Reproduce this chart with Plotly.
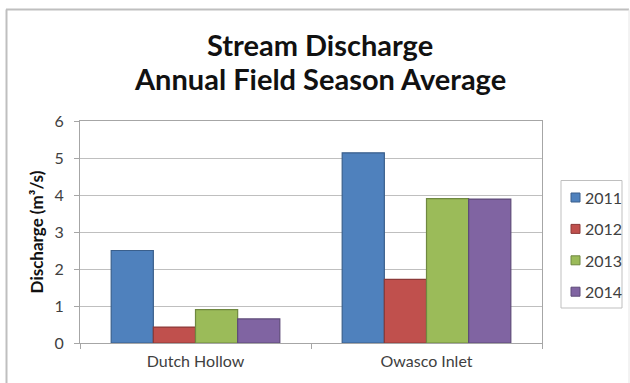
import plotly.graph_objects as go

# Stream discharge averages per field season (m^3/s)
sites = ["Dutch Hollow", "Owasco Inlet"]
years = ["2011", "2012", "2013", "2014"]
discharge_2011 = [2.50, 5.14]
discharge_2012 = [0.43, 1.72]
discharge_2013 = [0.90, 3.90]
discharge_2014 = [0.65, 3.89]
y_ticks = [0, 1, 2, 3, 4, 5, 6]

series = [discharge_2011, discharge_2012, discharge_2013, discharge_2014]
fills = ["#4F81BD", "#C0504D", "#9BBB59", "#8064A2"]
edges = ["#3A5F8C", "#8C3A38", "#6F8840", "#5D4A78"]

W, H = 630, 383
L, R, T, B = 80, 88, 121, 40
pw = W - L - R
ph = H - T - B


def px_x(p):
    """Pixel column -> paper x."""
    return (p - L) / pw


def px_y(p):
    """Pixel row -> paper y."""
    return (H - B - p) / ph


font_family = "Lato, 'Open Sans', sans-serif"
grey = "#BFBFBF"

fig = go.Figure()
for yr, vals, fc, ec in zip(years, series, fills, edges):
    fig.add_trace(go.Bar(
        x=sites, y=vals, name=yr,
        marker=dict(color=fc, line=dict(color=ec, width=1.2)),
    ))

shapes = [
    # outer chart frame
    dict(type="line", xref="paper", yref="paper",
         x0=px_x(6), x1=px_x(629), y0=px_y(9.5), y1=px_y(9.5),
         line=dict(color=grey, width=2)),
    dict(type="line", xref="paper", yref="paper",
         x0=px_x(6.5), x1=px_x(6.5), y0=px_y(9.5), y1=px_y(383),
         line=dict(color=grey, width=2)),
    dict(type="line", xref="paper", yref="paper",
         x0=px_x(629), x1=px_x(629), y0=px_y(9.5), y1=px_y(383),
         line=dict(color="#E6E6E6", width=1)),
    # legend box
    dict(type="rect", xref="paper", yref="paper",
         x0=px_x(561), x1=px_x(622), y0=px_y(180.5), y1=px_y(308),
         line=dict(color=grey, width=1), fillcolor="white"),
]
annotations = []

# legend entries: swatch + year label
leg_top, leg_step = 197.5, 31.4
for i, (yr, fc, ec) in enumerate(zip(years, fills, edges)):
    cy = leg_top + i * leg_step
    shapes.append(dict(
        type="rect", xref="paper", yref="paper",
        x0=px_x(571), x1=px_x(580), y0=px_y(cy - 4.5), y1=px_y(cy + 4.5),
        line=dict(color=ec, width=1), fillcolor=fc,
    ))
    annotations.append(dict(
        text=yr, xref="paper", yref="paper", x=px_x(582.5), y=px_y(cy),
        xanchor="left", yanchor="middle", showarrow=False,
        font=dict(size=16, color="#404040"),
    ))

# two-line chart title
for line, cy in (("Stream Discharge", 44), ("Annual Field Season Average", 78)):
    annotations.append(dict(
        text=f"<b>{line}</b>", xref="paper", yref="paper",
        x=px_x(320), y=px_y(cy), xanchor="center", yanchor="middle",
        showarrow=False,
        font=dict(size=29, color="#111111"),
    ))

fig.update_layout(
    width=W, height=H,
    margin=dict(l=L, r=R, t=T, b=B),
    paper_bgcolor="white", plot_bgcolor="white",
    barmode="group", bargap=0.27, bargroupgap=0,
    font=dict(family=font_family, color="#404040"),
    showlegend=False,
    xaxis=dict(
        showline=True, linecolor="#A6A6A6", linewidth=1, mirror=True,
        ticks="outside", tickson="boundaries", ticklen=5, tickcolor="#A6A6A6",
        tickfont=dict(size=16, color="#404040"),
        ticklabelstandoff=4,
        showgrid=False,
    ),
    yaxis=dict(
        range=[0, 6], tickvals=y_ticks,
        showline=True, linecolor="#A6A6A6", linewidth=1, mirror=True,
        ticks="outside", ticklen=5, tickcolor="#A6A6A6",
        gridcolor=grey, gridwidth=1,
        tickfont=dict(size=16, color="#404040"),
        ticklabelstandoff=7,
        title=dict(text="<b>Discharge (m³/s)</b>", standoff=6,
                   font=dict(size=17, color="#111111")),
        zeroline=False,
    ),
    shapes=shapes,
    annotations=annotations,
)

fig.write_html("out.html")
